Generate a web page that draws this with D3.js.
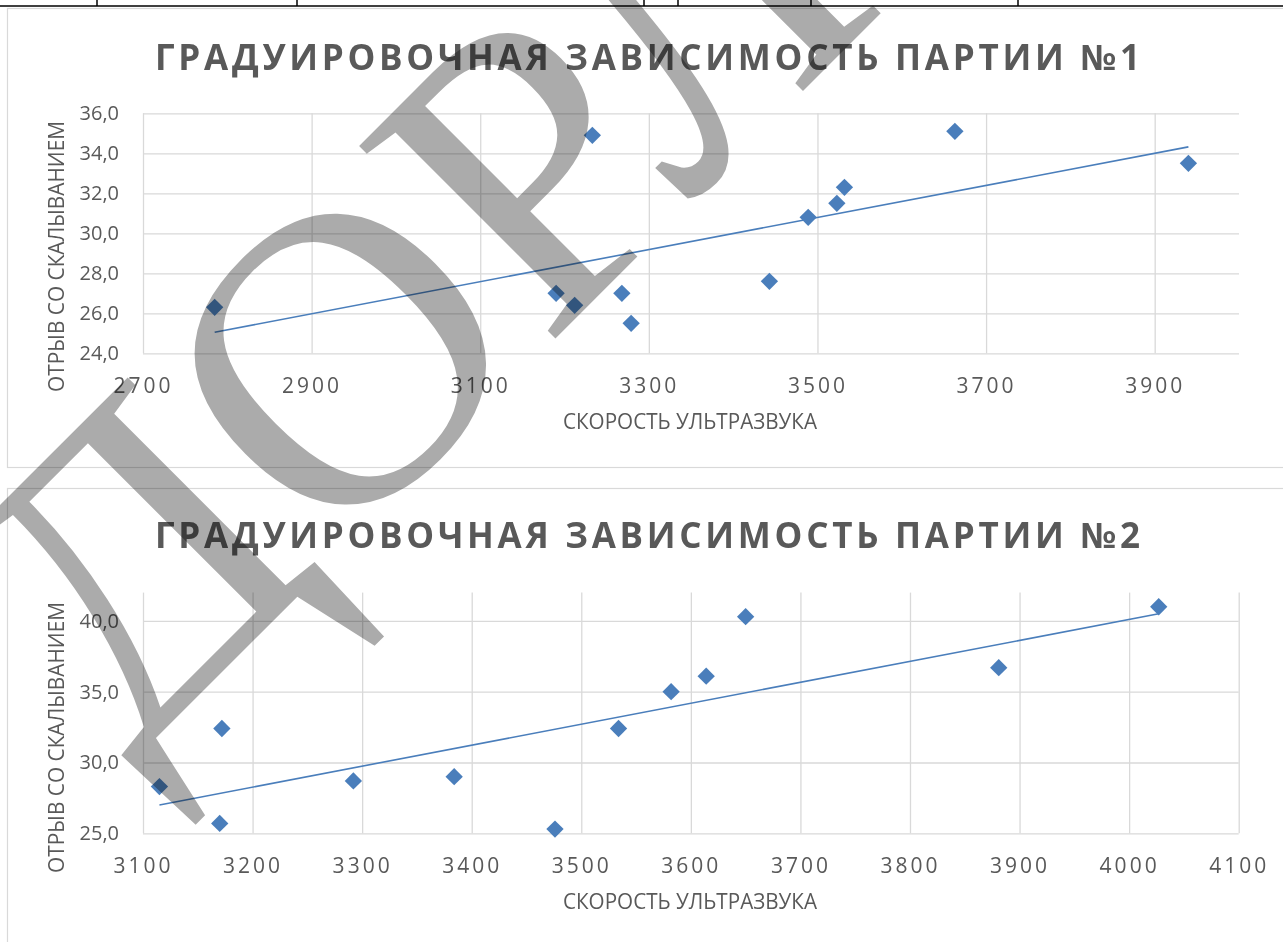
<!DOCTYPE html>
<html>
<head>
<meta charset="utf-8">
<script src="https://cdn.jsdelivr.net/npm/d3@7"></script>
<style>
  body { margin: 0; background: #fff; }
  svg { display: block; }
  .grid line { stroke: #d9d9d9; stroke-width: 1.3; }
  .grid .domain { display: none; }
  .ylab text { font-family: "Open Sans", sans-serif; font-size: 20px; fill: #595959; }
  .xlab text { font-family: "Open Sans", sans-serif; font-size: 21px; fill: #595959; letter-spacing: 3px; }
</style>
</head>
<body>
<svg id="page" width="1283" height="942"></svg>
<script>
// партия 1
var speed1 = [2785, 3190, 3212, 3233, 3268, 3279, 3443, 3489, 3523, 3532, 3663, 3940];
var pull1  = [26.3, 27.0, 26.4, 34.9, 27.0, 25.5, 27.6, 30.8, 31.5, 32.3, 35.1, 33.5];
var xTicks1 = [2700, 2900, 3100, 3300, 3500, 3700, 3900];
var yTicks1 = [24, 26, 28, 30, 32, 34, 36];

// партия 2
var speed2 = [3115, 3170, 3172, 3292, 3384, 3476, 3534, 3582, 3614, 3650, 3881, 4027];
var pull2  = [28.3, 25.7, 32.4, 28.7, 29.0, 25.3, 32.4, 35.0, 36.1, 40.3, 36.7, 41.0];
var xTicks2 = [3100, 3200, 3300, 3400, 3500, 3600, 3700, 3800, 3900, 4000, 4100];
var yTicks2 = [25, 30, 35, 40];

var title1 = "ГРАДУИРОВОЧНАЯ ЗАВИСИМОСТЬ ПАРТИИ №1";
var title2 = "ГРАДУИРОВОЧНАЯ ЗАВИСИМОСТЬ ПАРТИИ №2";
var xTitle = "СКОРОСТЬ УЛЬТРАЗВУКА";
var yTitle = "ОТРЫВ СО СКАЛЫВАНИЕМ";
var stamp = "ДОРЛ";

var tableCols = [97, 297, 644, 678, 811, 1018];

var svg;
var blue = "#4a7ebb";
var grey = "#595959";

document.addEventListener('DOMContentLoaded', function() {
    svg = d3.select('#page');
    svg.append('rect').attr('width', 1283).attr('height', 942).attr('fill', '#fff');

    // кусок таблицы сверху
    svg.append('line')
        .attr('x1', 0).attr('x2', 1283).attr('y1', 6).attr('y2', 6)
        .attr('stroke', '#000').attr('stroke-width', 1.5);
    svg.selectAll('.tcol').data(tableCols).enter().append('line')
        .attr('class', 'tcol')
        .attr('x1', d => d).attr('x2', d => d).attr('y1', 0).attr('y2', 6)
        .attr('stroke', '#000').attr('stroke-width', 1.5);

    drawChart({
        frameY: 8.5, frameH: 459,
        xs: speed1, ys: pull1, xTicks: xTicks1, yTicks: yTicks1,
        xDomain: [2700, 4000], yDomain: [24, 36],
        left: 143, right: 1239, top: 113.3, bottom: 353.3,
        title: title1, titleY: 70, xTitleY: 429, yTitleMid: 257
    });

    drawChart({
        frameY: 488.5, frameH: 500,
        xs: speed2, ys: pull2, xTicks: xTicks2, yTicks: yTicks2,
        xDomain: [3100, 4100], yDomain: [25, 42],
        left: 143, right: 1238.7, top: 592.6, bottom: 833.3,
        title: title2, titleY: 548, xTitleY: 909, yTitleMid: 738
    });

    watermark();
});

function drawChart(o) {
    var g = svg.append('g');

    g.append('rect')
        .attr('x', 7.5).attr('y', o.frameY)
        .attr('width', 1300).attr('height', o.frameH)
        .attr('fill', 'none').attr('stroke', '#d9d9d9').attr('stroke-width', 1.2);

    var x = d3.scaleLinear().domain(o.xDomain).range([o.left, o.right]);
    var y = d3.scaleLinear().domain(o.yDomain).range([o.bottom, o.top]);
    var h = o.bottom - o.top;
    var w = o.right - o.left;

    // вертикальная сетка + подписи X
    g.append('g')
        .attr('class', 'grid xlab')
        .attr('transform', 'translate(0,' + o.bottom + ')')
        .call(d3.axisBottom(x).tickValues(o.xTicks).tickSize(-h).tickPadding(25)
            .tickFormat(d3.format('d')));

    // горизонтальная сетка + подписи Y
    g.append('g')
        .attr('class', 'grid ylab')
        .attr('transform', 'translate(' + o.left + ',0)')
        .call(d3.axisLeft(y).tickValues(o.yTicks).tickSize(-w).tickPadding(24)
            .tickFormat(d => d3.format('.1f')(d).replace('.', ',')));

    // линия тренда (МНК)
    var mx = d3.mean(o.xs), my = d3.mean(o.ys);
    var sxy = d3.sum(o.xs, (v, i) => (v - mx) * (o.ys[i] - my));
    var sxx = d3.sum(o.xs, v => (v - mx) * (v - mx));
    var k = sxy / sxx;
    var ends = d3.extent(o.xs);
    g.append('path')
        .datum(ends)
        .attr('fill', 'none').attr('stroke', blue).attr('stroke-width', 1.6)
        .attr('d', d3.line().x(d => x(d)).y(d => y(my + k * (d - mx))));

    var pts = o.xs.map((v, i) => ({ s: v, p: o.ys[i] }));
    g.selectAll('.pt').data(pts).enter().append('path')
        .attr('class', 'pt')
        .attr('d', d3.symbol().type(d3.symbolSquare).size(150))
        .attr('transform', d => 'translate(' + x(d.s) + ',' + y(d.p) + ') rotate(45)')
        .attr('fill', blue);

    g.append('text')
        .attr('x', 155).attr('y', o.titleY)
        .attr('font-family', '"Open Sans", sans-serif')
        .attr('font-weight', 700).attr('font-size', '35px')
        .attr('fill', grey)
        .attr('textLength', 985).attr('lengthAdjust', 'spacing')
        .text(o.title);

    g.append('text')
        .attr('x', 563).attr('y', o.xTitleY)
        .attr('font-family', '"Open Sans", sans-serif')
        .attr('font-size', '21px').attr('fill', grey)
        .attr('textLength', 254).attr('lengthAdjust', 'spacingAndGlyphs')
        .text(xTitle);

    g.append('text')
        .attr('transform', 'translate(64,' + (o.yTitleMid + 135) + ') rotate(-90)')
        .attr('font-family', '"Open Sans", sans-serif')
        .attr('font-size', '22px').attr('fill', grey)
        .attr('textLength', 271).attr('lengthAdjust', 'spacingAndGlyphs')
        .text(yTitle);
}

function watermark() {
    var wm = svg.append('g')
        .attr('transform', 'translate(545,349) rotate(-45)')
        .style('mix-blend-mode', 'multiply');
    var t = wm.append('text')
        .attr('font-family', '"Liberation Serif", serif')
        .attr('font-size', '420px')
        .attr('fill', '#ababab')
        .text(stamp);
    // буква "Р" должна начинаться в точке поворота
    var shift = t.node().getStartPositionOfChar(2).x;
    t.attr('x', -shift);
}
</script>
</body>
</html>
